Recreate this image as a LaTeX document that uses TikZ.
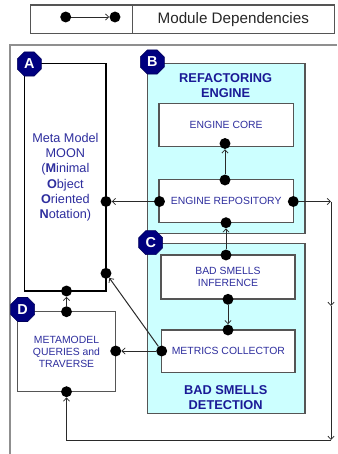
\documentclass[tikz,border=0pt]{standalone}
\usepackage{fontspec}
\setmainfont{Liberation Sans}
\usetikzlibrary{arrows.meta,shapes.geometric}

\definecolor{moduleblue}{HTML}{2E2E9E}
\definecolor{titleblue}{HTML}{1A1A96}
\definecolor{enginecyan}{HTML}{CCFFFF}
\definecolor{badgenavy}{HTML}{00007F}
\definecolor{framegray}{HTML}{8F8F8F}
\definecolor{boxgray}{HTML}{555555}
\definecolor{wiregray}{HTML}{2A2A2A}

\tikzset{
  dims/.style 2 args={minimum width=#1*0.75pt, minimum height=#2*0.75pt},
  box/.style={draw=boxgray, line width=1.05pt, fill=white, inner sep=0pt,
              text=moduleblue, align=center},
  group/.style={draw=boxgray, line width=1.05pt, fill=enginecyan, inner sep=0pt},
  capsfont/.style={font=\fontsize{7.8}{8.8}\selectfont},
  grouptitle/.style={text=titleblue, align=center,
              font=\bfseries\fontsize{9.6}{11.3}\selectfont},
  badge/.style={regular polygon, regular polygon sides=8, fill=badgenavy,
              draw=badgenavy!70!black, line width=0.4pt, minimum size=19.5pt,
              inner sep=0pt, text=white, font=\bfseries\fontsize{10.8}{10.8}\selectfont},
  dot/.style={circle, fill=black, inner sep=0pt, minimum size=8.2pt},
  dep/.style={draw=wiregray, line width=0.75pt,
              -{Straight Barb[length=2.4pt,width=4.6pt,line width=0.6pt]}},
  frame/.style={draw=framegray, line width=1.1pt},
}

\begin{document}
\begin{tikzpicture}[x=0.75pt,y=-0.75pt]
\useasboundingbox (0,0) rectangle (337,454);

% ---------------- legend ----------------
\node[draw=boxgray, line width=1pt, inner sep=0pt, dims={101.6}{28.3}]
  (keyleft) at (81.5,19.15) {};
\node[draw=boxgray, line width=1pt, inner sep=0pt, dims={202}{28.3},
      font=\fontsize{11.4}{12}\selectfont, text=black!85]
  (keyright) at (233.3,19.15) {Module Dependencies};
\node[dot] (keyfrom) at (65.7,17) {};
\node[dot] (keyto) at (115,17) {};
\draw[dep] (keyfrom) -- (keyto);

% ---------------- surrounding frame ----------------
\draw[frame] (337,45) -- (10,45) -- (10,454);

% ---------------- module A ----------------
\node[box, draw=black, line width=1.3pt, dims={81.8}{227.5},
      font=\fontsize{9.5}{11.5}\selectfont] (moon) at (65.4,177.25)
  {Meta Model\\MOON\\(\textbf{M}inimal\\\textbf{O}bject\\\textbf{O}riented\\\textbf{N}otation)};
\node[badge] (tagA) at (29.3,64) {A};

% ---------------- module B ----------------
\node[group, dims={157.7}{170}] (refac) at (226.15,148.3) {};
\node[grouptitle] (refactitle) at (225.7,85.8) {REFACTORING\\ENGINE};
\node[box, capsfont, dims={134.3}{43.4}] (core) at (226.15,125) {ENGINE CORE};
\node[box, capsfont, dims={134.3}{43.2}] (repo) at (226.15,201.1) {ENGINE REPOSITORY};
\node[badge] (tagB) at (152.3,62) {B};

% ---------------- module C ----------------
\node[group, dims={157.7}{170}] (smells) at (226.15,328.3) {};
\node[grouptitle] (smellstitle) at (225.7,398) {BAD SMELLS\\DETECTION};
\node[box, capsfont, dims={134}{44}] (infer) at (228,277) {BAD SMELLS\\INFERENCE};
\node[box, capsfont, dims={133.3}{42.7}] (metrics) at (228.35,351.35) {METRICS COLLECTOR};
\node[badge] (tagC) at (150.7,242.7) {C};

% ---------------- module D ----------------
\node[box, capsfont, dims={98.4}{80}] (queries) at (66.5,351.7)
  {METAMODEL\\QUERIES and\\TRAVERSE};
\node[badge] (tagD) at (22.7,309.5) {D};

% ---------------- connection points ----------------
\node[dot] (coreS)    at (225,143.5) {};
\node[dot] (repoN)    at (225,180) {};
\node[dot] (repoW)    at (159.5,201.5) {};
\node[dot] (repoE)    at (293.3,201.5) {};
\node[dot] (repoS)    at (226,222.7) {};
\node[dot] (moonE)    at (106,201.5) {};
\node[dot] (moonSE)   at (106,273.3) {};
\node[dot] (moonS)    at (66.5,291) {};
\node[dot] (inferN)   at (226,255) {};
\node[dot] (inferS)   at (228,299.3) {};
\node[dot] (metricsN) at (228,330) {};
\node[dot] (metricsW) at (161.7,351) {};
\node[dot] (queriesN) at (66.5,311.7) {};
\node[dot] (queriesE) at (115.7,351) {};
\node[dot] (queriesS) at (66.5,391.7) {};

\coordinate (bendA) at (331,201.5);
\coordinate (bendM) at (331,306);
\coordinate (bendB) at (331,440);
\coordinate (bendC) at (66.5,440);

% ---------------- dependencies ----------------
\draw[dep] (repoN) -- (coreS);
\draw[dep] (repoW) -- (moonE);
\draw[dep] (inferN) -- (repoS);
\draw[dep] (inferS) -- (metricsN);
\draw[dep] (metricsW) -- (queriesE);
\draw[dep] (metricsW) -- (moonSE);
\draw[dep] (queriesN) -- (moonS);

% repository -> queries, routed round the right and bottom
\draw[dep] (repoE) -- (bendA);
\draw[dep] (bendA) -- (bendM);
\draw[dep] (bendM) -- (bendB);
\draw[dep] (bendB) -- (bendC) -- (queriesS);
\end{tikzpicture}
\end{document}
